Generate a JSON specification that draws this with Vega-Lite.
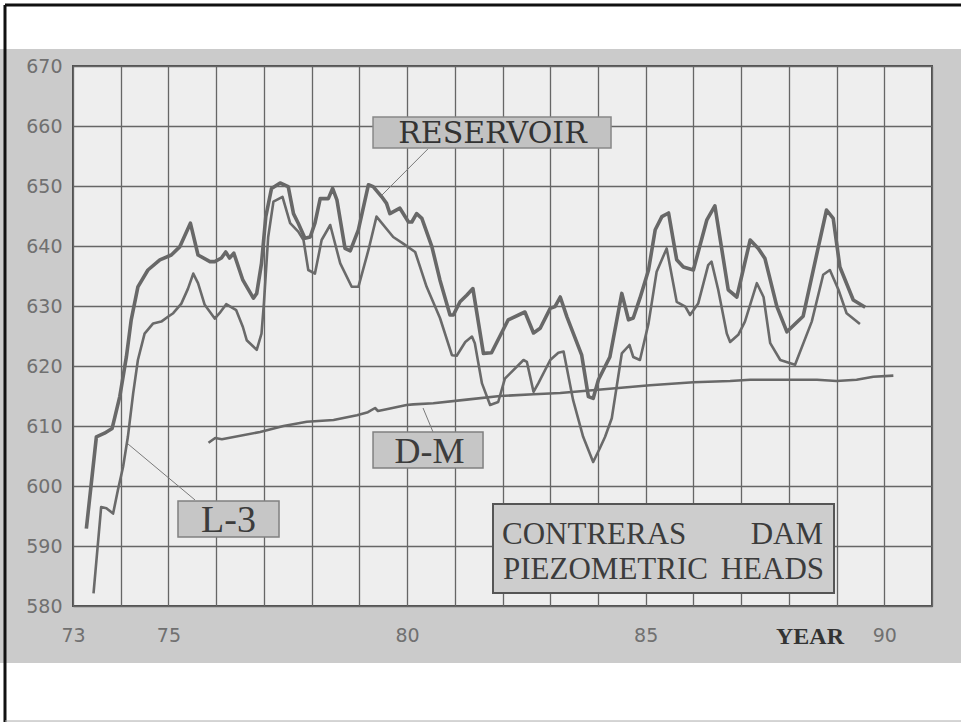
{
  "$schema": "https://vega.github.io/schema/vega-lite/v6.json",
  "width": 859,
  "height": 540,
  "autosize": {"type": "none"},
  "padding": {"left": 73, "top": 66, "right": 29, "bottom": 116},
  "background": "#cbcbcb",
  "config": {"view": {"fill": "#eeeeee", "stroke": "#505050", "strokeWidth": 2}},
  "datasets": {
    "heads": [
      {"s":"Reservoir","year":73.28,"head":592.9},{"s":"Reservoir","year":73.49,"head":608.2},{"s":"Reservoir","year":73.66,"head":608.8},{"s":"Reservoir","year":73.82,"head":609.6},{"s":"Reservoir","year":73.98,"head":614.9},{"s":"Reservoir","year":74.12,"head":621.6},{"s":"Reservoir","year":74.22,"head":627.7},{"s":"Reservoir","year":74.36,"head":633.2},{"s":"Reservoir","year":74.57,"head":636.0},{"s":"Reservoir","year":74.82,"head":637.7},{"s":"Reservoir","year":75.06,"head":638.5},{"s":"Reservoir","year":75.24,"head":639.9},{"s":"Reservoir","year":75.46,"head":643.8},{"s":"Reservoir","year":75.62,"head":638.5},{"s":"Reservoir","year":75.87,"head":637.4},{"s":"Reservoir","year":75.97,"head":637.4},{"s":"Reservoir","year":76.11,"head":638.0},{"s":"Reservoir","year":76.20,"head":639.0},{"s":"Reservoir","year":76.28,"head":638.0},{"s":"Reservoir","year":76.37,"head":638.8},{"s":"Reservoir","year":76.56,"head":634.3},{"s":"Reservoir","year":76.78,"head":631.3},{"s":"Reservoir","year":76.85,"head":632.1},{"s":"Reservoir","year":76.95,"head":637.1},{"s":"Reservoir","year":77.04,"head":644.9},{"s":"Reservoir","year":77.16,"head":649.6},{"s":"Reservoir","year":77.34,"head":650.5},{"s":"Reservoir","year":77.51,"head":649.9},{"s":"Reservoir","year":77.62,"head":645.4},{"s":"Reservoir","year":77.72,"head":643.8},{"s":"Reservoir","year":77.86,"head":641.3},{"s":"Reservoir","year":77.97,"head":641.5},{"s":"Reservoir","year":78.07,"head":643.8},{"s":"Reservoir","year":78.18,"head":647.9},{"s":"Reservoir","year":78.35,"head":647.9},{"s":"Reservoir","year":78.44,"head":649.6},{"s":"Reservoir","year":78.53,"head":647.7},{"s":"Reservoir","year":78.70,"head":639.6},{"s":"Reservoir","year":78.81,"head":639.2},{"s":"Reservoir","year":78.98,"head":642.7},{"s":"Reservoir","year":79.19,"head":650.2},{"s":"Reservoir","year":79.29,"head":649.9},{"s":"Reservoir","year":79.47,"head":648.2},{"s":"Reservoir","year":79.57,"head":647.1},{"s":"Reservoir","year":79.64,"head":645.4},{"s":"Reservoir","year":79.85,"head":646.3},{"s":"Reservoir","year":80.03,"head":644.0},{"s":"Reservoir","year":80.10,"head":644.0},{"s":"Reservoir","year":80.20,"head":645.4},{"s":"Reservoir","year":80.31,"head":644.6},{"s":"Reservoir","year":80.52,"head":639.9},{"s":"Reservoir","year":80.69,"head":634.3},{"s":"Reservoir","year":80.90,"head":628.5},{"s":"Reservoir","year":80.97,"head":628.5},{"s":"Reservoir","year":81.11,"head":630.7},{"s":"Reservoir","year":81.25,"head":631.8},{"s":"Reservoir","year":81.38,"head":632.9},{"s":"Reservoir","year":81.60,"head":622.1},{"s":"Reservoir","year":81.77,"head":622.2},{"s":"Reservoir","year":82.12,"head":627.7},{"s":"Reservoir","year":82.47,"head":629.0},{"s":"Reservoir","year":82.65,"head":625.5},{"s":"Reservoir","year":82.79,"head":626.3},{"s":"Reservoir","year":83.00,"head":629.6},{"s":"Reservoir","year":83.10,"head":629.9},{"s":"Reservoir","year":83.21,"head":631.5},{"s":"Reservoir","year":83.35,"head":628.2},{"s":"Reservoir","year":83.66,"head":621.8},{"s":"Reservoir","year":83.80,"head":614.9},{"s":"Reservoir","year":83.90,"head":614.6},{"s":"Reservoir","year":84.01,"head":617.7},{"s":"Reservoir","year":84.11,"head":619.3},{"s":"Reservoir","year":84.25,"head":621.5},{"s":"Reservoir","year":84.50,"head":632.1},{"s":"Reservoir","year":84.64,"head":627.7},{"s":"Reservoir","year":84.74,"head":628.0},{"s":"Reservoir","year":84.88,"head":631.3},{"s":"Reservoir","year":85.06,"head":636.0},{"s":"Reservoir","year":85.20,"head":642.7},{"s":"Reservoir","year":85.34,"head":644.9},{"s":"Reservoir","year":85.48,"head":645.5},{"s":"Reservoir","year":85.65,"head":637.7},{"s":"Reservoir","year":85.79,"head":636.5},{"s":"Reservoir","year":86.00,"head":636.0},{"s":"Reservoir","year":86.28,"head":644.3},{"s":"Reservoir","year":86.45,"head":646.7},{"s":"Reservoir","year":86.73,"head":632.7},{"s":"Reservoir","year":86.91,"head":631.5},{"s":"Reservoir","year":87.19,"head":641.0},{"s":"Reservoir","year":87.36,"head":639.6},{"s":"Reservoir","year":87.50,"head":637.9},{"s":"Reservoir","year":87.75,"head":629.9},{"s":"Reservoir","year":87.96,"head":625.7},{"s":"Reservoir","year":88.30,"head":628.3},{"s":"Reservoir","year":88.62,"head":639.9},{"s":"Reservoir","year":88.79,"head":646.0},{"s":"Reservoir","year":88.93,"head":644.6},{"s":"Reservoir","year":89.07,"head":636.5},{"s":"Reservoir","year":89.35,"head":631.0},{"s":"Reservoir","year":89.60,"head":629.8},
      {"s":"L-3","year":73.43,"head":582.1},{"s":"L-3","year":73.59,"head":596.5},{"s":"L-3","year":73.70,"head":596.3},{"s":"L-3","year":73.84,"head":595.4},{"s":"L-3","year":73.94,"head":599.3},{"s":"L-3","year":74.05,"head":603.2},{"s":"L-3","year":74.15,"head":608.2},{"s":"L-3","year":74.26,"head":615.4},{"s":"L-3","year":74.36,"head":621.0},{"s":"L-3","year":74.50,"head":625.4},{"s":"L-3","year":74.68,"head":627.1},{"s":"L-3","year":74.85,"head":627.4},{"s":"L-3","year":74.99,"head":628.2},{"s":"L-3","year":75.10,"head":628.8},{"s":"L-3","year":75.27,"head":630.4},{"s":"L-3","year":75.41,"head":632.9},{"s":"L-3","year":75.52,"head":635.4},{"s":"L-3","year":75.62,"head":633.8},{"s":"L-3","year":75.76,"head":630.2},{"s":"L-3","year":75.97,"head":627.9},{"s":"L-3","year":76.07,"head":628.8},{"s":"L-3","year":76.21,"head":630.3},{"s":"L-3","year":76.42,"head":629.3},{"s":"L-3","year":76.56,"head":626.5},{"s":"L-3","year":76.64,"head":624.3},{"s":"L-3","year":76.85,"head":622.7},{"s":"L-3","year":76.95,"head":625.4},{"s":"L-3","year":77.00,"head":630.4},{"s":"L-3","year":77.09,"head":641.5},{"s":"L-3","year":77.20,"head":647.4},{"s":"L-3","year":77.39,"head":648.2},{"s":"L-3","year":77.55,"head":643.8},{"s":"L-3","year":77.72,"head":642.4},{"s":"L-3","year":77.83,"head":641.0},{"s":"L-3","year":77.93,"head":636.0},{"s":"L-3","year":78.07,"head":635.4},{"s":"L-3","year":78.21,"head":641.0},{"s":"L-3","year":78.39,"head":643.5},{"s":"L-3","year":78.60,"head":637.1},{"s":"L-3","year":78.84,"head":633.2},{"s":"L-3","year":78.98,"head":633.2},{"s":"L-3","year":79.19,"head":639.3},{"s":"L-3","year":79.36,"head":644.9},{"s":"L-3","year":79.71,"head":641.5},{"s":"L-3","year":79.92,"head":640.4},{"s":"L-3","year":80.17,"head":639.0},{"s":"L-3","year":80.41,"head":633.2},{"s":"L-3","year":80.69,"head":628.0},{"s":"L-3","year":80.94,"head":621.8},{"s":"L-3","year":81.04,"head":621.7},{"s":"L-3","year":81.22,"head":624.0},{"s":"L-3","year":81.36,"head":624.9},{"s":"L-3","year":81.42,"head":623.8},{"s":"L-3","year":81.57,"head":617.1},{"s":"L-3","year":81.74,"head":613.5},{"s":"L-3","year":81.91,"head":614.0},{"s":"L-3","year":82.05,"head":617.9},{"s":"L-3","year":82.44,"head":621.0},{"s":"L-3","year":82.51,"head":620.7},{"s":"L-3","year":82.65,"head":615.7},{"s":"L-3","year":82.75,"head":617.1},{"s":"L-3","year":83.00,"head":621.0},{"s":"L-3","year":83.17,"head":622.2},{"s":"L-3","year":83.28,"head":622.4},{"s":"L-3","year":83.48,"head":614.3},{"s":"L-3","year":83.69,"head":608.2},{"s":"L-3","year":83.90,"head":604.0},{"s":"L-3","year":84.04,"head":606.3},{"s":"L-3","year":84.15,"head":608.2},{"s":"L-3","year":84.29,"head":611.3},{"s":"L-3","year":84.50,"head":622.1},{"s":"L-3","year":84.66,"head":623.5},{"s":"L-3","year":84.74,"head":621.5},{"s":"L-3","year":84.88,"head":621.0},{"s":"L-3","year":85.06,"head":627.1},{"s":"L-3","year":85.23,"head":635.7},{"s":"L-3","year":85.44,"head":639.6},{"s":"L-3","year":85.65,"head":630.7},{"s":"L-3","year":85.83,"head":629.9},{"s":"L-3","year":85.93,"head":628.5},{"s":"L-3","year":86.10,"head":630.4},{"s":"L-3","year":86.31,"head":636.8},{"s":"L-3","year":86.38,"head":637.4},{"s":"L-3","year":86.52,"head":632.7},{"s":"L-3","year":86.70,"head":625.4},{"s":"L-3","year":86.77,"head":624.0},{"s":"L-3","year":86.94,"head":625.2},{"s":"L-3","year":87.08,"head":627.4},{"s":"L-3","year":87.33,"head":633.8},{"s":"L-3","year":87.47,"head":631.5},{"s":"L-3","year":87.61,"head":623.8},{"s":"L-3","year":87.82,"head":621.0},{"s":"L-3","year":88.13,"head":620.2},{"s":"L-3","year":88.48,"head":627.4},{"s":"L-3","year":88.72,"head":635.2},{"s":"L-3","year":88.86,"head":636.0},{"s":"L-3","year":89.04,"head":632.7},{"s":"L-3","year":89.21,"head":628.8},{"s":"L-3","year":89.49,"head":627.0},
      {"s":"D-M","year":75.84,"head":607.2},{"s":"D-M","year":75.98,"head":608.0},{"s":"D-M","year":76.12,"head":607.8},{"s":"D-M","year":76.92,"head":609.0},{"s":"D-M","year":77.41,"head":610.0},{"s":"D-M","year":77.90,"head":610.7},{"s":"D-M","year":78.46,"head":611.0},{"s":"D-M","year":78.95,"head":611.8},{"s":"D-M","year":79.18,"head":612.3},{"s":"D-M","year":79.33,"head":613.0},{"s":"D-M","year":79.39,"head":612.5},{"s":"D-M","year":79.57,"head":612.8},{"s":"D-M","year":79.99,"head":613.5},{"s":"D-M","year":80.13,"head":613.6},{"s":"D-M","year":80.55,"head":613.8},{"s":"D-M","year":81.25,"head":614.4},{"s":"D-M","year":81.95,"head":615.0},{"s":"D-M","year":82.65,"head":615.3},{"s":"D-M","year":83.21,"head":615.5},{"s":"D-M","year":84.67,"head":616.5},{"s":"D-M","year":85.09,"head":616.8},{"s":"D-M","year":86.00,"head":617.3},{"s":"D-M","year":86.77,"head":617.5},{"s":"D-M","year":87.19,"head":617.7},{"s":"D-M","year":88.03,"head":617.7},{"s":"D-M","year":88.59,"head":617.7},{"s":"D-M","year":89.00,"head":617.5},{"s":"D-M","year":89.42,"head":617.7},{"s":"D-M","year":89.77,"head":618.2},{"s":"D-M","year":90.19,"head":618.4}
    ]
  },
  "layer": [
    {
      "data": {"name": "heads"},
      "encoding": {
        "x": {"field": "year", "type": "quantitative",
          "scale": {"domain": [73, 91], "nice": false, "zero": false},
          "axis": {"title": null, "values": [73,74,75,76,77,78,79,80,81,82,83,84,85,86,87,88,89,90,91],
            "labelExpr": "indexof([73,75,80,85,90], datum.value) >= 0 ? datum.label : ''",
            "grid": true, "gridColor": "#666666", "gridWidth": 1.3, "gridOpacity": 1,
            "ticks": false, "domain": false, "labelFlush": false, "labelOverlap": false,
            "labelFont": "DejaVu Sans", "labelFontSize": 19, "labelColor": "#707070", "labelPadding": 20}},
        "y": {"field": "head", "type": "quantitative",
          "scale": {"domain": [580, 670], "nice": false, "zero": false},
          "axis": {"title": null, "values": [580,590,600,610,620,630,640,650,660,670],
            "grid": true, "gridColor": "#666666", "gridWidth": 1.3, "gridOpacity": 1,
            "ticks": false, "domain": false, "labelFlush": false, "labelOverlap": false,
            "labelFont": "DejaVu Sans", "labelFontSize": 19, "labelColor": "#707070", "labelPadding": 11}}
      },
      "layer": [
        {"transform": [{"filter": "datum.s === 'Reservoir'"}], "mark": {"type": "line", "stroke": "#686868", "strokeWidth": 3.6, "strokeJoin": "round"}},
        {"transform": [{"filter": "datum.s === 'L-3'"}], "mark": {"type": "line", "stroke": "#6a6a6a", "strokeWidth": 2.6, "strokeJoin": "round"}},
        {"transform": [{"filter": "datum.s === 'D-M'"}], "mark": {"type": "line", "stroke": "#686868", "strokeWidth": 2.6, "strokeJoin": "round"}}
      ]
    },
    {"data": {"values": [{}]}, "mark": {"type": "rect", "fill": "#ffffff"},
     "encoding": {"x": {"datum": 71.3}, "x2": {"datum": 92}, "y": {"datum": 682}, "y2": {"datum": 672.83}}},
    {"data": {"values": [{}]}, "mark": {"type": "rect", "fill": "#ffffff"},
     "encoding": {"x": {"datum": 71.3}, "x2": {"datum": 92}, "y": {"datum": 570.5}, "y2": {"datum": 559}}},
    {"data": {"values": [{}]}, "mark": {"type": "rule", "stroke": "#111111", "strokeWidth": 3},
     "encoding": {"x": {"datum": 71.575}, "x2": {"datum": 92}, "y": {"datum": 680.17}}},
    {"data": {"values": [{}]}, "mark": {"type": "rule", "stroke": "#111111", "strokeWidth": 3},
     "encoding": {"x": {"datum": 71.575}, "y": {"datum": 680.17}, "y2": {"datum": 559}}},
    {"data": {"values": [{}]}, "mark": {"type": "rule", "stroke": "#aaaaaa", "strokeWidth": 1},
     "encoding": {"x": {"datum": 71.575}, "x2": {"datum": 92}, "y": {"datum": 560.83}}},
    {"data": {"values": [{}]}, "mark": {"type": "rule", "stroke": "#7a7a7a", "strokeWidth": 1},
     "encoding": {"x": {"datum": 80.44}, "x2": {"datum": 79.475}, "y": {"datum": 656.2}, "y2": {"datum": 648.5}}},
    {"data": {"values": [{}]}, "mark": {"type": "rule", "stroke": "#7a7a7a", "strokeWidth": 1},
     "encoding": {"x": {"datum": 75.557}, "x2": {"datum": 74.153}, "y": {"datum": 597.67}, "y2": {"datum": 607.0}}},
    {"data": {"values": [{}]}, "mark": {"type": "rule", "stroke": "#7a7a7a", "strokeWidth": 1},
     "encoding": {"x": {"datum": 80.544}, "x2": {"datum": 80.335}, "y": {"datum": 609.0}, "y2": {"datum": 613.0}}},
    {"data": {"values": [{}]}, "mark": {"type": "rect", "fill": "#c2c2c2", "stroke": "#888888", "strokeWidth": 1.5},
     "encoding": {"x": {"datum": 79.287}, "x2": {"datum": 84.274}, "y": {"datum": 661.5}, "y2": {"datum": 656.33}}},
    {"data": {"values": [{}]}, "mark": {"type": "rect", "fill": "#c6c6c6", "stroke": "#808080", "strokeWidth": 1.5},
     "encoding": {"x": {"datum": 75.2}, "x2": {"datum": 77.317}, "y": {"datum": 597.5}, "y2": {"datum": 591.5}}},
    {"data": {"values": [{}]}, "mark": {"type": "rect", "fill": "#c6c6c6", "stroke": "#808080", "strokeWidth": 1.5},
     "encoding": {"x": {"datum": 79.287}, "x2": {"datum": 81.592}, "y": {"datum": 609.0}, "y2": {"datum": 603.0}}},
    {"data": {"values": [{}]}, "mark": {"type": "rect", "fill": "#cdcdcd", "stroke": "#555555", "strokeWidth": 2},
     "encoding": {"x": {"datum": 81.801}, "x2": {"datum": 88.947}, "y": {"datum": 597.0}, "y2": {"datum": 582.17}}},
    {"data": {"values": [{}]}, "mark": {"type": "text", "text": "RESERVOIR", "font": "DejaVu Serif", "fontSize": 30, "align": "center", "baseline": "alphabetic", "fill": "#333333"},
     "encoding": {"x": {"datum": 81.79}, "y": {"datum": 657.17}}},
    {"data": {"values": [{}]}, "mark": {"type": "text", "text": "L-3", "font": "Liberation Serif", "fontSize": 38, "align": "center", "baseline": "alphabetic", "fill": "#3c3c3c"},
     "encoding": {"x": {"datum": 76.259}, "y": {"datum": 592.33}}},
    {"data": {"values": [{}]}, "mark": {"type": "text", "text": "D-M", "font": "Liberation Serif", "fontSize": 36, "align": "center", "baseline": "alphabetic", "fill": "#3c3c3c"},
     "encoding": {"x": {"datum": 80.471}, "y": {"datum": 603.83}}},
    {"data": {"values": [{}]}, "mark": {"type": "text", "text": "CONTRERAS", "font": "Liberation Serif", "fontSize": 31, "align": "left", "baseline": "alphabetic", "fill": "#3c3c3c"},
     "encoding": {"x": {"datum": 81.99}, "y": {"datum": 590.33}}},
    {"data": {"values": [{}]}, "mark": {"type": "text", "text": "DAM", "font": "Liberation Serif", "fontSize": 31, "align": "right", "baseline": "alphabetic", "fill": "#3c3c3c"},
     "encoding": {"x": {"datum": 88.717}, "y": {"datum": 590.33}}},
    {"data": {"values": [{}]}, "mark": {"type": "text", "text": "PIEZOMETRIC", "font": "Liberation Serif", "fontSize": 31, "align": "left", "baseline": "alphabetic", "fill": "#3c3c3c"},
     "encoding": {"x": {"datum": 82.011}, "y": {"datum": 584.5}}},
    {"data": {"values": [{}]}, "mark": {"type": "text", "text": "HEADS", "font": "Liberation Serif", "fontSize": 31, "align": "right", "baseline": "alphabetic", "fill": "#3c3c3c"},
     "encoding": {"x": {"datum": 88.738}, "y": {"datum": 584.5}}},
    {"data": {"values": [{}]}, "mark": {"type": "text", "text": "YEAR", "font": "Liberation Serif", "fontWeight": "bold", "fontSize": 24, "align": "center", "baseline": "alphabetic", "fill": "#333333"},
     "encoding": {"x": {"datum": 88.444}, "y": {"datum": 573.67}}}
  ]
}
